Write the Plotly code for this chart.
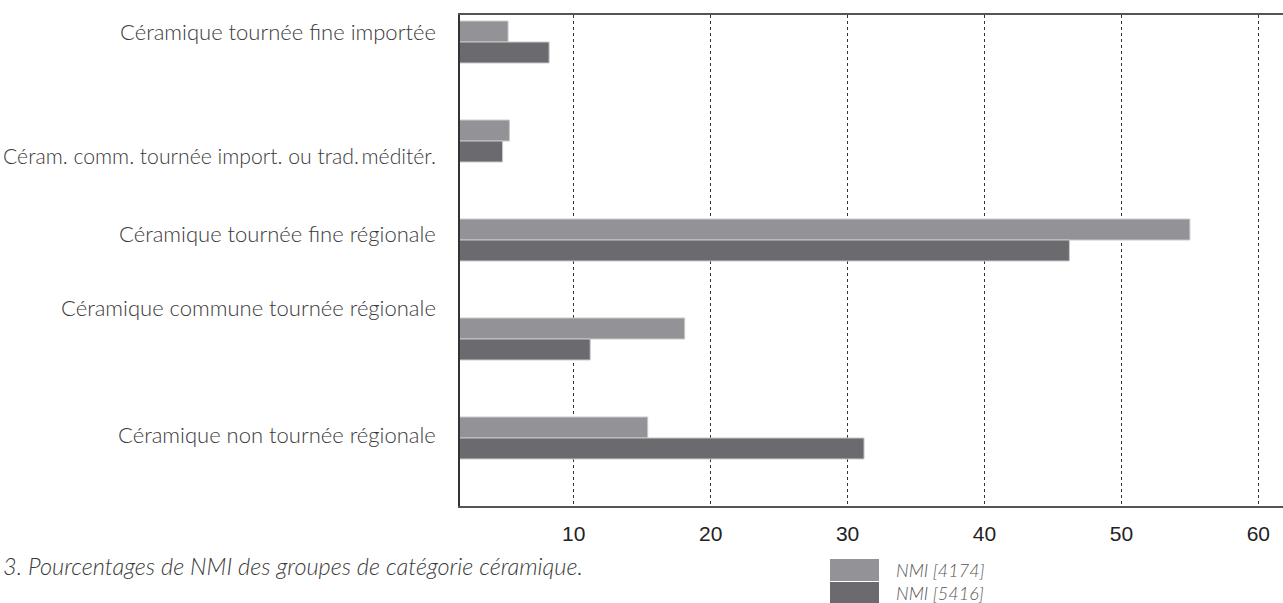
import plotly.graph_objects as go

categories = [
    "Céramique tournée fine importée",
    "Céram. comm. tournée import. ou trad.\u2009méditér.",
    "Céramique tournée fine régionale",
    "Céramique commune tournée régionale",
    "Céramique non tournée régionale",
]
nmi_4174 = [5.2, 5.3, 55.0, 18.1, 15.4]
nmi_5416 = [8.2, 4.8, 46.2, 11.2, 31.2]
series_names = ["NMI [4174]", "NMI [5416]"]
tick_values = [10, 20, 30, 40, 50, 60]
caption = "3. Pourcentages de NMI des groupes de catégorie céramique."

LIGHT = "#939397"
DARK = "#6b6b6f"
TXT = "#3a3a3a"
FONT = "Lato"

W, H = 1283, 603
ML, MR, MT, MB = 460, 0, 15, 97
PW, PH = W - ML - MR, H - MT - MB

idx = list(range(len(categories)))

fig = go.Figure()
fig.add_trace(go.Bar(y=idx, x=nmi_4174, orientation="h", name=series_names[0],
                     marker=dict(color=LIGHT, line=dict(color="#c9c9cb", width=1)),
                     showlegend=False))
fig.add_trace(go.Bar(y=idx, x=nmi_5416, orientation="h", name=series_names[1],
                     marker=dict(color=DARK, line=dict(color="#c9c9cb", width=1)),
                     showlegend=False))

# label vertical offsets (px) and sizes to mimic hand placement of the original
label_shift = [11, -15, 7, 32, 3]
label_size = [22, 21.2, 22, 22, 22]
annotations = []
for i, (c, s, fs) in enumerate(zip(categories, label_shift, label_size)):
    annotations.append(dict(x=0, xref="paper", y=i, yref="y", text=c, showarrow=False,
                            xanchor="right", yanchor="middle", xshift=-22, yshift=s,
                            font=dict(family=FONT, size=fs, color=TXT, weight=300)))

annotations.append(dict(x=(1 - ML) / PW, xref="paper", y=(MT + PH - 566) / PH, yref="paper",
                        text=caption, showarrow=False, xanchor="left", yanchor="middle",
                        font=dict(family=FONT, size=23.5, color=TXT, style="italic", weight=300)))

# legend
leg_cy = [570, 593]
for name, col, cy in zip(series_names, [LIGHT, DARK], leg_cy):
    fig.add_shape(type="rect", xref="paper", yref="paper",
                  x0=(830 - ML) / PW, x1=(879 - ML) / PW,
                  y0=(MT + PH - (cy + 11)) / PH, y1=(MT + PH - (cy - 11)) / PH,
                  fillcolor=col, line=dict(width=0))
    annotations.append(dict(x=(894 - ML) / PW, xref="paper", y=(MT + PH - cy) / PH, yref="paper",
                            text=name, showarrow=False, xanchor="left", yanchor="middle",
                            font=dict(family=FONT, size=18, color="#555", style="italic", weight=300)))

fig.update_layout(
    width=W, height=H,
    margin=dict(l=ML, r=MR, t=MT, b=MB),
    paper_bgcolor="white", plot_bgcolor="white",
    barmode="group", bargap=0.576, bargroupgap=0,
    annotations=annotations,
    showlegend=False,
    xaxis=dict(range=[1.69, 61.8], tickvals=tick_values, ticktext=[str(t) for t in tick_values],
               showgrid=True, gridcolor="#333", gridwidth=1, griddash="dot",
               showline=True, linecolor="#555", linewidth=2, mirror=True,
               ticks="", ticklabelstandoff=8, zeroline=False,
               tickfont=dict(family="Liberation Sans", size=21, color="#222")),
    yaxis=dict(range=[4.687, -0.273], showticklabels=False, showgrid=False, zeroline=False,
               showline=True, linecolor="#333", linewidth=2, ticks=""),
)

fig.write_html("out.html", config={"displayModeBar": False},
               post_script="document.body.style.margin='0';document.body.style.overflow='hidden';")
